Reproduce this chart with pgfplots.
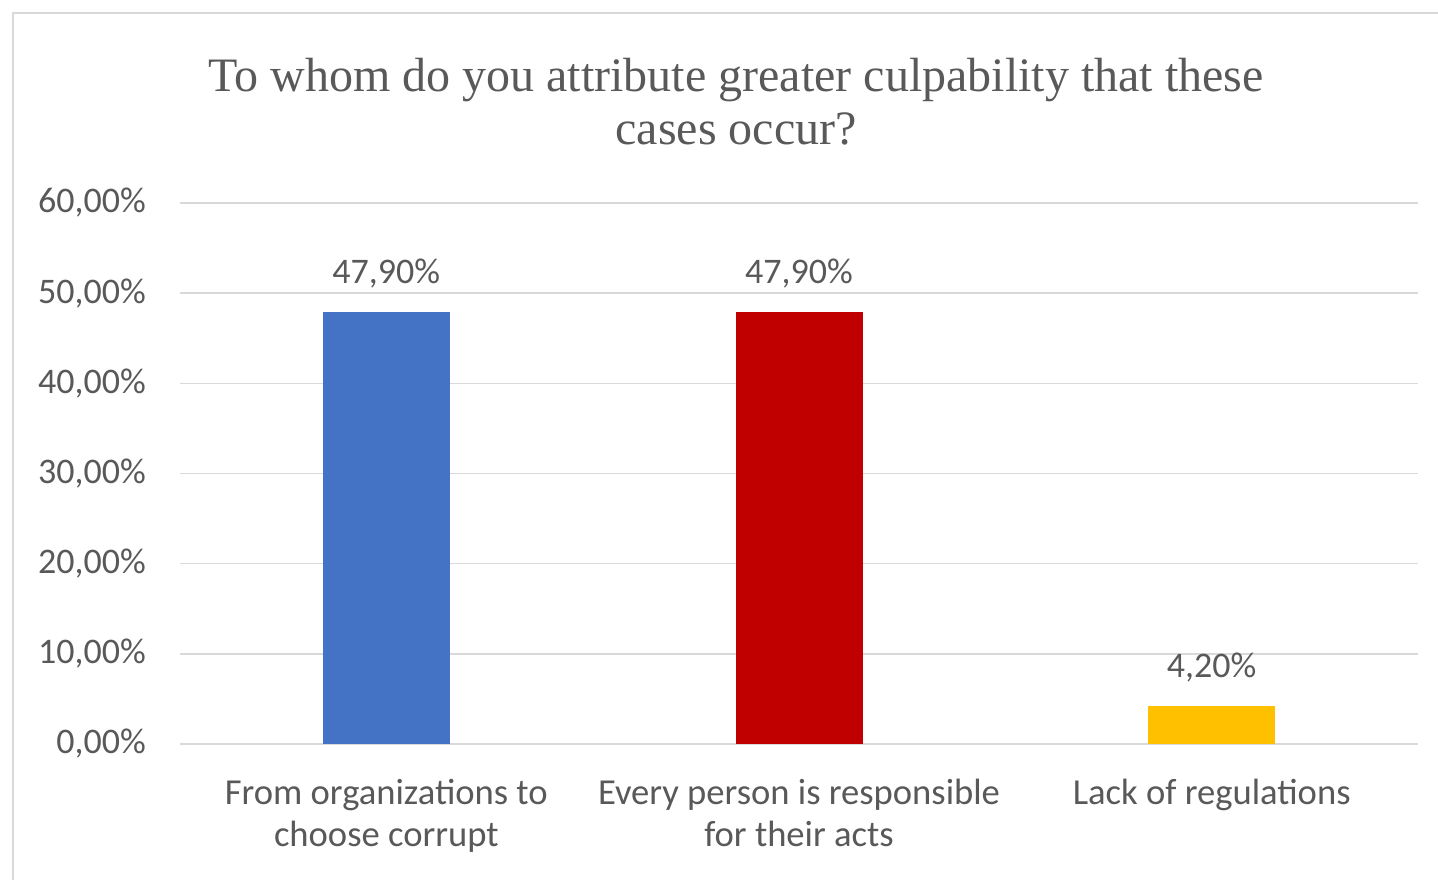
\documentclass[border=0pt]{standalone}
\usepackage{pgfplots}
\pgfplotsset{compat=1.18}
\usepackage{fontspec}
\setmainfont{Carlito}
\newfontfamily\titlefont{Liberation Serif}
\definecolor{txt}{HTML}{595959}
\definecolor{gridc}{HTML}{D9D9D9}
\definecolor{framec}{HTML}{D9D9D9}
\definecolor{cblue}{HTML}{4472C4}
\definecolor{cred}{HTML}{C00000}
\definecolor{cyellow}{HTML}{FFC000}
\begin{document}
\begin{tikzpicture}
\useasboundingbox (0pt,0pt) rectangle (719pt,439.5pt);
\fill[white] (0pt,0pt) rectangle (719pt,439.5pt);
\draw[color=framec, line width=1pt] (6.3pt,-5pt) rectangle (725pt,433pt);
\node[font=\titlefont\fontsize{24}{28}\selectfont, text=txt, anchor=base] at (368pt,393.5pt) {To whom do you attribute greater culpability that these};
\node[font=\titlefont\fontsize{24}{28}\selectfont, text=txt, anchor=base] at (368pt,367pt) {cases occur?};
\begin{axis}[
  at={(90pt,67.5pt)}, anchor=south west,
  scale only axis, width=619pt, height=270.5pt,
  ybar, bar width=63.5pt, bar shift=0pt,
  xmin=-0.5, xmax=2.5, ymin=0, ymax=60,
  enlargelimits=false, clip=false,
  ytick={0,10,20,30,40,50,60},
  xtick={0,1,2},
  xticklabels={{From organizations to\\choose corrupt},{Every person is responsible\\for their acts},{Lack of regulations}},
  xticklabel style={align=center, font=\fontsize{18.3}{21}\selectfont, text=txt, anchor=north, yshift=-14pt},
  yticklabel style={font=\fontsize{18}{21}\selectfont, text=txt, xshift=-13.5pt},
  /pgf/number format/assume math mode=true,
  yticklabel={\pgfmathprintnumber[fixed,fixed zerofill,precision=2,use comma]{\tick}\%},
  ymajorgrids, grid style={color=gridc, line width=0.8pt},
  axis line style={draw=none}, major tick length=0pt, tick style={draw=none},
  nodes near coords={\pgfmathprintnumber[fixed,fixed zerofill,precision=2,use comma]{\pgfplotspointmeta}\%},
  nodes near coords style={font=\fontsize{18}{21}\selectfont, text=txt, anchor=south, inner sep=0pt, yshift=12pt},
]
\addplot[fill=cblue, draw=none] coordinates {(0,47.9)};
\addplot[fill=cred, draw=none] coordinates {(1,47.9)};
\addplot[fill=cyellow, draw=none] coordinates {(2,4.2)};
\end{axis}
\end{tikzpicture}
\end{document}
